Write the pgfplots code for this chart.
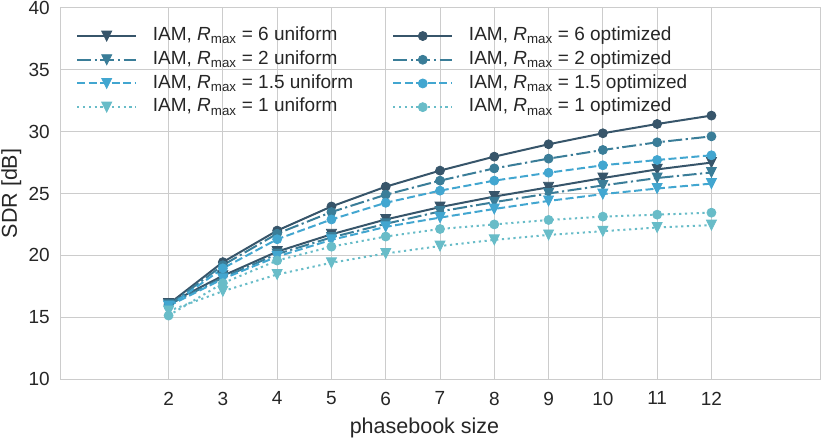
\documentclass[border=0pt]{standalone}
\usepackage{fontspec}
\setmainfont{Liberation Sans}
\usepackage{pgfplots}
\pgfplotsset{compat=1.18}

\definecolor{cA}{HTML}{37556A}
\definecolor{cB}{HTML}{3A7D98}
\definecolor{cC}{HTML}{42A6D0}
\definecolor{cD}{HTML}{68BCC8}
\definecolor{gridc}{HTML}{CCCCCC}
\definecolor{txt}{HTML}{262626}

\pgfdeclareplotmark{vtri}{%
  \pgfpathmoveto{\pgfpoint{0pt}{-\pgfplotmarksize}}%
  \pgfpathlineto{\pgfpoint{-\pgfplotmarksize}{\pgfplotmarksize}}%
  \pgfpathlineto{\pgfpoint{\pgfplotmarksize}{\pgfplotmarksize}}%
  \pgfpathclose\pgfusepathqfillstroke}

\newcommand{\lab}[2]{IAM, \textit{R}\textsubscript{max} = #1 #2}

\begin{document}
\begin{tikzpicture}
\begin{axis}[
  at={(0,0)}, anchor=south west,
  width=760bp, height=371bp, scale only axis,
  xmin=0, xmax=14, ymin=10, ymax=40,
  xtick={2,3,...,12}, ytick={10,15,...,40},
  grid=major,
  major grid style={draw=gridc, line width=1bp},
  axis line style={draw=gridc, line width=1bp},
  tick style={draw=none},
  /pgf/number format/assume math mode=true,
  ticklabel style={font=\fontsize{19bp}{22bp}\selectfont, text=txt},
  xticklabel style={anchor=north, inner sep=0pt, yshift=-12.7bp},
  yticklabel style={anchor=east, inner sep=0pt, xshift=-10bp},
  xlabel={phasebook size},
  ylabel={SDR [dB]},
  label style={font=\fontsize{21.5bp}{24bp}\selectfont, text=txt},
  xlabel style={at={(axis description cs:0.4796,0)}, anchor=base, yshift=-54bp},
  ylabel style={at={(axis description cs:0,0.5)}, anchor=base, rotate=0, xshift=0bp},
  every axis y label/.append style={at={(axis description cs:-0.0566,0.5)}},
  legend columns=2,
  legend cell align=left,
  legend style={at={(axis description cs:0,1)}, anchor=north west,
    xshift=16bp, yshift=-19bp, draw=none, fill=none, inner sep=0pt,
    font=\fontsize{19bp}{22bp}\selectfont, text=txt,
    row sep=6bp, column sep=15.7bp,
    nodes={inner sep=0pt, text height=13.7bp, text depth=4bp},
    /tikz/every even column/.append style={column sep=39bp}},
  legend image code/.code={%
    \draw[mark repeat=2,mark phase=2] plot coordinates {(0bp,0bp)(29.5bp,0bp)(59bp,0bp)};},
  every axis plot/.append style={line width=2bp},
]
% uniform R=6
\addplot[color=cA, solid, mark=vtri, mark size=5bp, mark options={solid, fill=cA, line width=0.8bp}]
 coordinates {(2,16.1)(3,18.35)(4,20.3)(5,21.7)(6,22.9)(7,23.9)(8,24.75)(9,25.5)(10,26.25)(11,26.95)(12,27.5)};
\addlegendentry{\lab{6}{uniform}}
% optimized R=6
\addplot[color=cA, solid, mark=*, mark size=4.5bp, mark options={solid, fill=cA, line width=0.8bp}]
 coordinates {(2,16.05)(3,19.45)(4,22.0)(5,23.95)(6,25.55)(7,26.85)(8,27.98)(9,28.98)(10,29.87)(11,30.62)(12,31.3)};
\addlegendentry{\lab{6}{optimized}}
% uniform R=2
\addplot[color=cB, dash pattern=on 14bp off 3.5bp on 2.2bp off 3.5bp, mark=vtri, mark size=5bp, mark options={solid, fill=cB, line width=0.8bp}]
 coordinates {(2,16.0)(3,18.2)(4,20.1)(5,21.45)(6,22.55)(7,23.55)(8,24.3)(9,25.0)(10,25.65)(11,26.25)(12,26.7)};
\addlegendentry{\lab{2}{uniform}}
% optimized R=2
\addplot[color=cB, dash pattern=on 14bp off 3.5bp on 2.2bp off 3.5bp, mark=*, mark size=4.5bp, mark options={solid, fill=cB, line width=0.8bp}]
 coordinates {(2,15.95)(3,19.2)(4,21.75)(5,23.5)(6,24.9)(7,26.04)(8,27.03)(9,27.82)(10,28.52)(11,29.14)(12,29.62)};
\addlegendentry{\lab{2}{optimized}}
% uniform R=1.5
\addplot[color=cC, dash pattern=on 8bp off 3.5bp, mark=vtri, mark size=5bp, mark options={solid, fill=cC, line width=0.8bp}]
 coordinates {(2,15.9)(3,18.1)(4,19.9)(5,21.25)(6,22.3)(7,23.05)(8,23.75)(9,24.4)(10,24.95)(11,25.4)(12,25.8)};
\addlegendentry{\lab{1.5}{uniform}}
% optimized R=1.5
\addplot[color=cC, dash pattern=on 8bp off 3.5bp, mark=*, mark size=4.5bp, mark options={solid, fill=cC, line width=0.8bp}]
 coordinates {(2,15.85)(3,18.95)(4,21.3)(5,22.9)(6,24.25)(7,25.23)(8,26.04)(9,26.68)(10,27.28)(11,27.71)(12,28.09)};
\addlegendentry{\lab{1.5}{optimized}}
% uniform R=1
\addplot[color=cD, dash pattern=on 2.2bp off 3.6bp, mark=vtri, mark size=5bp, mark options={solid, fill=cD, line width=0.8bp}]
 coordinates {(2,15.5)(3,17.1)(4,18.45)(5,19.4)(6,20.15)(7,20.75)(8,21.25)(9,21.65)(10,21.95)(11,22.25)(12,22.45)};
\addlegendentry{\lab{1}{uniform}}
% optimized R=1
\addplot[color=cD, dash pattern=on 2.2bp off 3.6bp, mark=*, mark size=4.5bp, mark options={solid, fill=cD, line width=0.8bp}]
 coordinates {(2,15.13)(3,17.75)(4,19.58)(5,20.7)(6,21.52)(7,22.13)(8,22.5)(9,22.86)(10,23.13)(11,23.29)(12,23.45)};
\addlegendentry{\lab{1}{optimized}}
\end{axis}
\pgfresetboundingbox
\path[use as bounding box] (-60bp,-59bp) rectangle (762bp,379bp);
\end{tikzpicture}
\end{document}
